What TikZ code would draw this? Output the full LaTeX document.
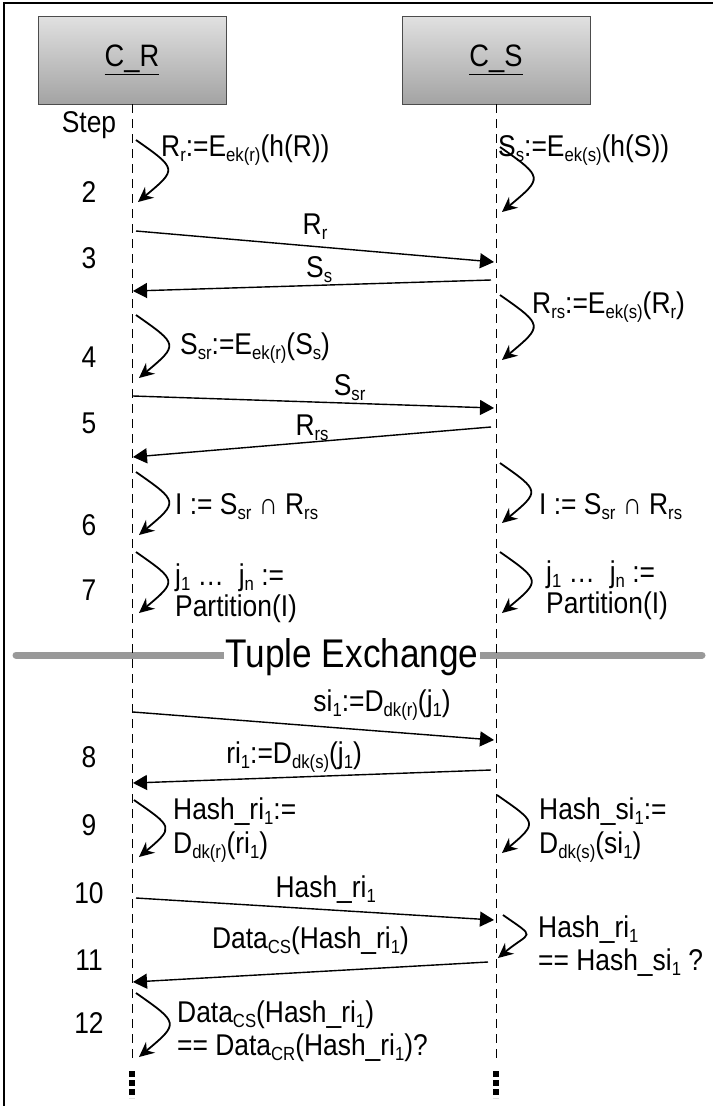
\documentclass[tikz,border=0pt]{standalone}
\usepackage{fontspec}
\setmainfont[FakeStretch=0.88]{Liberation Sans}
\usetikzlibrary{positioning,arrows.meta}

\newcommand{\lo}[1]{\raisebox{-5pt}{\fontsize{19}{20}\selectfont #1}}

\begin{document}
\begin{tikzpicture}[x=1pt,y=-1pt,
  actor/.style={rectangle,draw=black!70,top color=black!12,bottom color=black!36,minimum width=188pt,minimum height=88pt,inner sep=0pt,font=\fontsize{31}{32}\selectfont},
  life/.style={dash pattern=on 9pt off 6pt,line width=1pt},
  more/.style={dash pattern=on 6pt off 3pt,line width=6pt},
  msg/.style={-{Triangle[length=14pt,width=15pt]},line width=1.4pt},
  selfmsg/.style={-{Stealth[length=15pt,width=14pt]},line width=1.8pt,out=-35,in=40,looseness=#1},
  selfmsg/.default=2.1,
  lbl/.style={font=\fontsize{30}{30}\selectfont,inner sep=0pt},
  note/.style={font=\fontsize{30}{30}\selectfont,inner sep=0pt,anchor=west,align=left},
  stepno/.style={font=\fontsize{30}{30}\selectfont,inner sep=0pt},
  divider/.style={line width=7pt,line cap=round,black!40},
  frame/.style={line width=1.5pt},
]
\useasboundingbox (0,0) rectangle (713,1106);

% frame (left and top only)
\coordinate (frbl) at (4,1106);
\coordinate (frtr) at (713,3);
\draw[frame] (frbl) |- (frtr);

% === ACTORS ===
\node[actor] (cr) at (132,60) {\underline{C\_R}};
\node[actor] (cs) at (496,60) {\underline{C\_S}};

% === TUPLE EXCHANGE DIVIDER ===
\coordinate (dvl) at (16,655);
\coordinate (dvr) at (702,655);
\draw[divider] (dvl) -- (dvr);
\node[fill=white,inner xsep=1pt,inner ysep=0pt,font=\fontsize{40}{40}\selectfont] (tx) at (352,657) {Tuple Exchange};

% lifelines
\coordinate (crend) at (132,1058);
\coordinate (csend) at (496,1058);
\draw[life] (cr.south) -- (crend);
\draw[life] (cs.south) -- (csend);
\coordinate (crd1) at (132,1071); \coordinate (crd2) at (132,1098);
\coordinate (csd1) at (496,1071); \coordinate (csd2) at (496,1098);
\draw[more] (crd1) -- (crd2);
\draw[more] (csd1) -- (csd2);

% step column
\node[stepno] (st0) at (89,125) {Step};
\foreach \n/\y in {2/192,3/258,4/357,5/423,6/525,7/590,8/757,9/825,10/893,11/960,12/1023}
  \node[stepno] (st\n) at (89,\y) {\n};

% === STEPS 1-2: hashing and encryption ===
\coordinate (r2a) at (136,140); \coordinate (r2b) at (138,202);
\draw[selfmsg] (r2a) to (r2b);
\node[note] (r2t) at (161,150) {R\lo{r}:=E\lo{ek(r)}(h(R))};

\coordinate (s2a) at (500,147); \coordinate (s2b) at (502,212);
\draw[selfmsg] (s2a) to (s2b);
\node[note] (s2t) at (498,150) {S\lo{s}:=E\lo{ek(s)}(h(S))};

% === STEP 3: exchange ===
\coordinate (m3a) at (136,231); \coordinate (m3b) at (494,262);
\draw[msg] (m3a) -- node[lbl,above=6pt,pos=.5] (m3l) {R\lo{r}} (m3b);
\coordinate (s3a) at (491,280); \coordinate (s3b) at (133,291);
\draw[msg] (s3a) -- node[lbl,above=2pt,pos=.48] (s3l) {S\lo{s}} (s3b);

% === STEP 4: second encryption ===
\coordinate (s4a) at (500,295); \coordinate (s4b) at (502,360);
\draw[selfmsg] (s4a) to (s4b);
\node[note] (s4t) at (532,307) {R\lo{rs}:=E\lo{ek(s)}(R\lo{r})};

\coordinate (r4a) at (136,315); \coordinate (r4b) at (139,378);
\draw[selfmsg] (r4a) to (r4b);
\node[note] (r4t) at (180,348) {S\lo{sr}:=E\lo{ek(r)}(S\lo{s})};

% === STEP 5 ===
\coordinate (m5a) at (133,396); \coordinate (m5b) at (494,408);
\draw[msg] (m5a) -- node[lbl,above=2pt,pos=.6] (m5l) {S\lo{sr}} (m5b);
\coordinate (s5a) at (491,427); \coordinate (s5b) at (133,457);
\draw[msg] (s5a) -- node[lbl,above=1pt,pos=.5] (s5l) {R\lo{rs}} (s5b);

% === STEPS 6-7: intersection and partition ===
\coordinate (r6a) at (136,472); \coordinate (r6b) at (139,535);
\draw[selfmsg] (r6a) to (r6b);
\node[note] (r6t) at (175,507) {I := S\lo{sr} ∩ R\lo{rs}};

\coordinate (s6a) at (500,463); \coordinate (s6b) at (502,523);
\draw[selfmsg] (s6a) to (s6b);
\node[note] (s6t) at (539,507) {I := S\lo{sr} ∩ R\lo{rs}};

\coordinate (r7a) at (136,552); \coordinate (r7b) at (139,613);
\draw[selfmsg] (r7a) to (r7b);
\node[note] (r7t) at (175,593) {j\lo{1} …\ \ j\lo{n} :=\\[1pt]Partition(I)};

\coordinate (s7a) at (500,552); \coordinate (s7b) at (502,613);
\draw[selfmsg] (s7a) to (s7b);
\node[note] (s7t) at (546,590) {j\lo{1} …\ \ j\lo{n} :=\\[1pt]Partition(I)};

% === STEP 8: tuple exchange ===
\coordinate (m8a) at (133,712); \coordinate (m8b) at (494,740);
\draw[msg] (m8a) -- node[lbl,above=10pt,pos=.69] (m8l) {si\lo{1}:=D\lo{dk(r)}(j\lo{1})} (m8b);
\coordinate (s8a) at (491,770); \coordinate (s8b) at (133,783);
\draw[msg] (s8a) -- node[lbl,above=4pt,pos=.55] (s8l) {ri\lo{1}:=D\lo{dk(s)}(j\lo{1})} (s8b);

% === STEP 9 ===
\coordinate (r9a) at (134,800); \coordinate (r9b) at (139,857);
\draw[selfmsg] (r9a) to (r9b);
\node[note] (r9t) at (173,830) {Hash\_ri\lo{1}:=\\[4pt]D\lo{dk(r)}(ri\lo{1})};

\coordinate (s9a) at (497,795); \coordinate (s9b) at (502,853);
\draw[selfmsg] (s9a) to (s9b);
\node[note] (s9t) at (539,830) {Hash\_si\lo{1}:=\\[4pt]D\lo{dk(s)}(si\lo{1})};

% === STEPS 10-12: check ===
\coordinate (m10a) at (136,898); \coordinate (m10b) at (494,920);
\draw[msg] (m10a) -- node[lbl,above=6pt,pos=.53] (m10l) {Hash\_ri\lo{1}} (m10b);

\coordinate (s11a) at (503,915); \coordinate (s11b) at (498,958);
\draw[selfmsg=2.5] (s11a) to (s11b);
\node[note] (s11t) at (538,946) {Hash\_ri\lo{1}\\[3pt]== Hash\_si\lo{1} ?};

\coordinate (m11a) at (488,962); \coordinate (m11b) at (133,982);
\draw[msg] (m11a) -- node[lbl,above=17pt,pos=.5] (m11l) {Data\lo{CS}(Hash\_ri\lo{1})} (m11b);

\coordinate (r12a) at (136,993); \coordinate (r12b) at (139,1057);
\draw[selfmsg] (r12a) to (r12b);
\node[note] (r12t) at (177,1031) {Data\lo{CS}(Hash\_ri\lo{1})\\[3pt]== Data\lo{CR}(Hash\_ri\lo{1})?};

\end{tikzpicture}
\end{document}
